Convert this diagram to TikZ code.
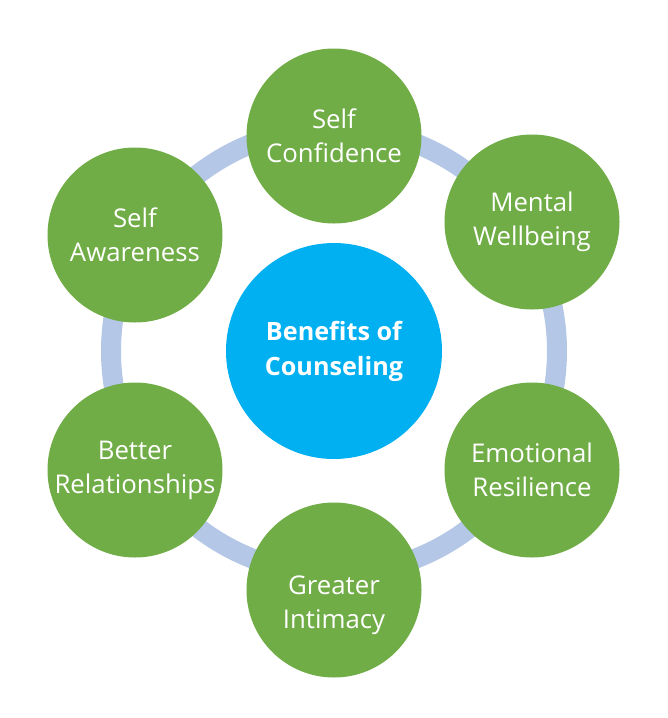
\documentclass[tikz,border=0pt]{standalone}
\usepackage{fontspec}
\setmainfont{Open Sans}
\usepackage{tikz}
\usetikzlibrary{positioning}
\definecolor{benefitgreen}{HTML}{70AD47}
\definecolor{hubblue}{HTML}{00B0F0}
\definecolor{ringblue}{HTML}{B4C7E7}
\tikzset{
    benefittext/.style={text=white,align=center,font=\fontsize{22}{29}\selectfont},
    benefit/.style={circle,fill=benefitgreen,minimum size=5.25cm,inner sep=0pt,benefittext},
    hub/.style={circle,fill=hubblue,minimum size=6.48cm,inner sep=0pt,
        text=white,align=center,font=\fontsize{21.5}{30}\selectfont\bfseries},
    ring/.style={draw=ringblue,line width=0.6cm},
}

\begin{document}
\begin{tikzpicture}[x=0.03cm,y=-0.03cm]
    \useasboundingbox (0,0) rectangle (668,718);
    \coordinate (mid) at (334,351);
    \draw[ring] (mid) circle[radius=223];

    \node[hub] (hubnode) at (mid) {Benefits of\\Counseling};
    \node[benefit] (confidence) at (334,136) {Self\\Confidence};
    \node[benefit] (wellbeing) at (532,222) {Mental\\Wellbeing};
    \node[benefit] (resilience) at (532,470) {Emotional\\Resilience};
    \node[benefit,label={[benefittext,yshift=-0.45cm]center:Greater\\Intimacy}] (intimacy) at (334,590) {};
    \node[benefit] (relations) at (135,470) {Better\\Relationships};
    \node[benefit] (awareness) at (135,235) {Self\\Awareness};
\end{tikzpicture}
\end{document}
